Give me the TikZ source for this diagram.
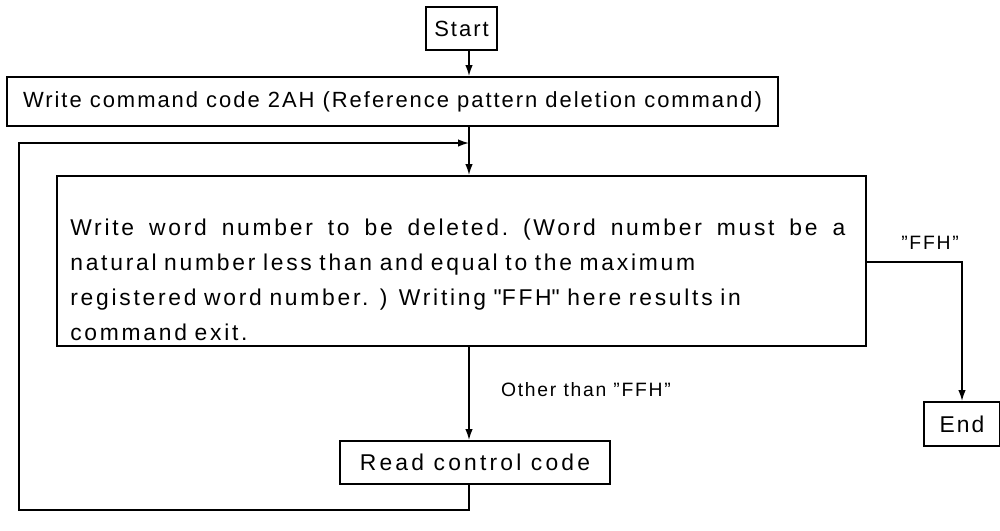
\documentclass[tikz,border=0pt]{standalone}
\usepackage{fontspec}
\setmainfont{Liberation Sans}[LetterSpace=9]
\newfontfamily\qfont{Liberation Sans}
\newcommand{\dquote}{{\qfont"}}
\usetikzlibrary{positioning,arrows.meta}

\begin{document}
\begin{tikzpicture}
[
    x=0.2mm, y=-0.2mm,
    box/.style={draw, line width=1.1pt, inner sep=0pt, font=\fontsize{12.5}{20}\selectfont},
    flow/.style={line width=0.9pt, -{Latex[length=2.2mm,width=1.5mm]}},
    lbl/.style={inner sep=0pt, font=\fontsize{11}{12}\selectfont},
]
\useasboundingbox (0,0) rectangle (1000,530);
\node[box, minimum width=14.2mm, minimum height=8.6mm] (start) at (461.5,28.5) {Start};
\node[box, minimum width=154.2mm, minimum height=9.8mm] (cmd) at (392.5,101.5)
    {Write command code 2AH (Reference pattern deletion command)};
\node[box, minimum width=161.8mm, minimum height=34mm] (word) at (461.5,261) {};
\node[inner sep=0pt, anchor=north west, text width=165mm, align=left,
    font=\fontsize{13}{19.9}\selectfont\addfontfeatures{LetterSpace=12}] (wordtext) at (70,219)
    {\hbox to 155mm{Write\hfil\ word\hfil\ number\hfil\ to\hfil\ be\hfil\ deleted.\hfil\ (Word\hfil\ number\hfil\ must\hfil\ be\hfil\ a}\\
     natural number less than and equal to the maximum\\
     registered word number. ) Writing \dquote FFH\dquote{} here results in\\
     command exit.};
\node[box, minimum width=54mm, minimum height=8.6mm,
    font=\fontsize{13}{20}\selectfont\addfontfeatures{LetterSpace=14}] (read) at (475,462.5) {Read control code};
\node[box, minimum width=15.2mm, minimum height=8.8mm,
    font=\fontsize{13}{20}\selectfont] (end) at (962,424) {End};
\coordinate (join) at (469,143);
\coordinate (loopbl) at (19,510);
\coordinate (looptl) at (19,143);
\coordinate (exit) at (866,262);
\node[lbl] (ffh) at (930,243) {"FFH"};
\node[lbl] (other) at (586,390) {Other than "FFH"};
\draw[flow] (start.south -| join) -- (cmd.north -| join);
\draw[line width=0.9pt] (cmd.south -| join) -- (join);
\draw[flow] (join) -- (word.north -| join);
\draw[flow] (word.south -| join) -- (read.north -| join);
\draw[flow] (read.south -| join) |- (loopbl) -- (looptl) -- (join);
\draw[flow] (exit) -| (end.north);
\end{tikzpicture}
\end{document}
